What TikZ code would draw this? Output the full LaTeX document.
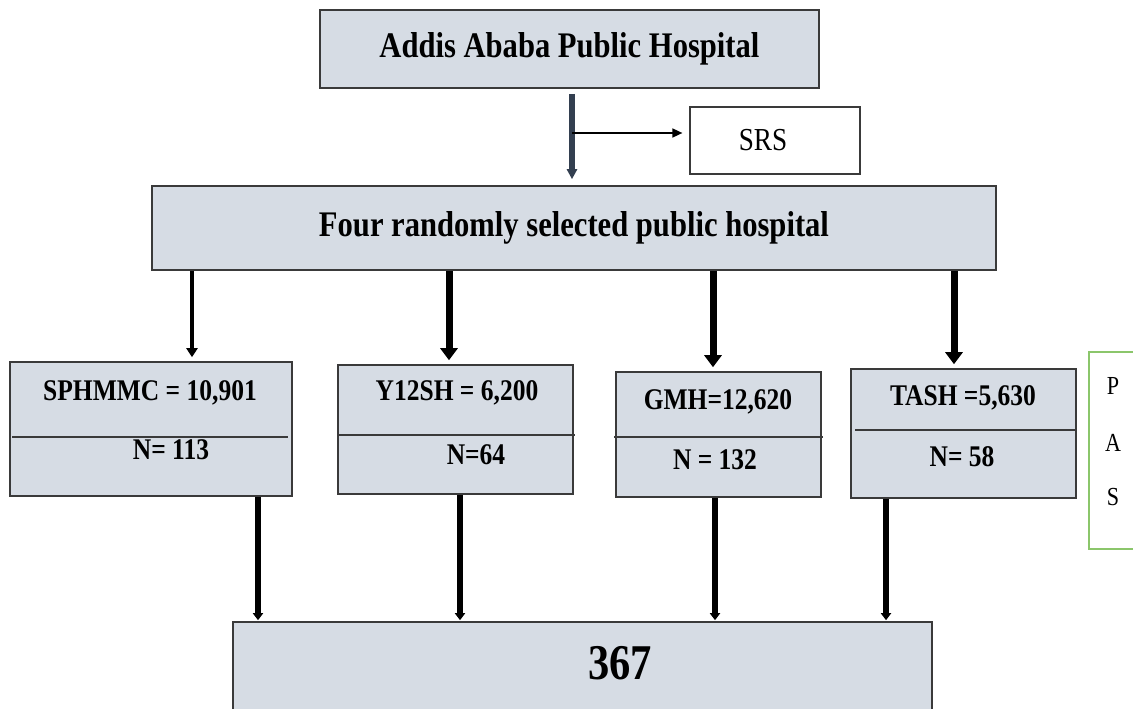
\documentclass[tikz,border=0pt]{standalone}
\usepackage{fontspec}
\setmainfont{Liberation Serif}[FakeStretch=0.85]
\usetikzlibrary{arrows.meta}
\definecolor{FILL}{HTML}{D6DCE4}
\definecolor{EDGE}{HTML}{3A3A3A}
\definecolor{SLATE}{HTML}{333F50}
\definecolor{GREEN}{HTML}{8BC66B}

\begin{document}
\begin{tikzpicture}[x=1pt,y=-1pt]
\tikzset{box/.style={draw=EDGE,line width=1.6pt,fill=FILL,inner sep=0pt},
 wbox/.style={draw=EDGE,line width=1.2pt,fill=white,inner sep=0pt},
 big/.style={font=\fontsize{36}{36}\selectfont\bfseries},
 tx/.style={font=\fontsize{30}{30}\selectfont\bfseries,inner sep=0pt},
 let/.style={font=\fontsize{26}{26}\selectfont,inner sep=0pt},
 dn/.style={-{Triangle[length=12pt,width=17pt]},line width=7pt,black},
 dnthin/.style={-{Triangle[length=9pt,width=11pt]},line width=4pt,black},
 up/.style={-{Triangle[length=7pt,width=10pt]},line width=5.5pt,black}}
\useasboundingbox (0,0) rectangle (1133,709);
% top part
\node[box,big,minimum width=499pt,minimum height=78pt] (top) at (569.5,49) {Addis Ababa Public Hospital};
\node[wbox,minimum width=170pt,minimum height=67pt] (srs) at (775,140.5) {};
\node[font=\fontsize{32}{32}\selectfont,inner sep=0pt] (srsT) at (763,140) {SRS};
\node[box,big,minimum width=844pt,minimum height=84pt] (four) at (574,228) {Four randomly selected public hospital};
\coordinate (srsout) at (572,133);
\draw[-{Triangle[length=10pt,width=10pt]},line width=6pt,SLATE,shorten <=5pt,shorten >=6pt] (top.south -| srsout) -- (four.north -| srsout);
\draw[-{Triangle[length=10pt,width=9pt]},line width=1.6pt,black,shorten >=7pt] (srsout) -- (srsout -| srs.west);
% hospitals
\node[box,minimum width=282pt,minimum height=134pt] (sph) at (151,429) {};
\node[box,minimum width=235pt,minimum height=129pt] (y12) at (455.5,429.5) {};
\node[box,minimum width=205pt,minimum height=125pt] (gmh) at (718.5,434.5) {};
\node[box,minimum width=225pt,minimum height=129pt] (tash) at (963.5,433.5) {};
\draw[EDGE,line width=1.6pt] (12,437) -- (288,437) (337,435) -- (575,435)
 (614,437) -- (823,437) (855,430) -- (1076,430);
\node[tx] (sphA) at (150,393) {SPHMMC = 10,901};
\node[tx] (sphB) at (171,450) {N= 113};
\node[tx] (y12A) at (457,393) {Y12SH = 6,200};
\node[tx] (y12B) at (476,455) {N=64};
\node[tx] (gmhA) at (718,402) {GMH=12,620};
\node[tx] (gmhB) at (715,460) {N = 132};
\node[tx] (tashA) at (963,398) {TASH =5,630};
\node[tx] (tashB) at (962,457) {N= 58};
\foreach \n/\x in {a1/192,a2/449,a3/713,a4/954,b1/258,b2/460,b3/715,b4/886}
 \coordinate (\n) at (\x,0);
\draw[dnthin,shorten >=4pt] (four.south -| a1) -- (sph.north -| a1);
\foreach \b/\n in {y12/a2,gmh/a3,tash/a4}
 \draw[dn,shorten >=4pt] (four.south -| \n) -- (\b.north -| \n);
% PAS
\node[draw=GREEN,line width=1.3pt,minimum width=60pt,minimum height=197pt,inner sep=0pt] (pas) at (1119,450.5) {};
\node[let] (p) at (1113,386) {P};
\node[let] (a) at (1113,443) {A};
\node[let] (s) at (1113,497) {S};
% total
\node[box,minimum width=699pt,minimum height=98pt] (tot) at (582.5,671) {};
\node[font=\fontsize{50}{50}\selectfont\bfseries,inner sep=0pt] (n) at (620,663) {367};
\foreach \b/\n in {sph/b1,y12/b2,gmh/b3,tash/b4}
 \draw[up,shorten >=1pt] (\b.south -| \n) -- (tot.north -| \n);
\end{tikzpicture}
\end{document}
